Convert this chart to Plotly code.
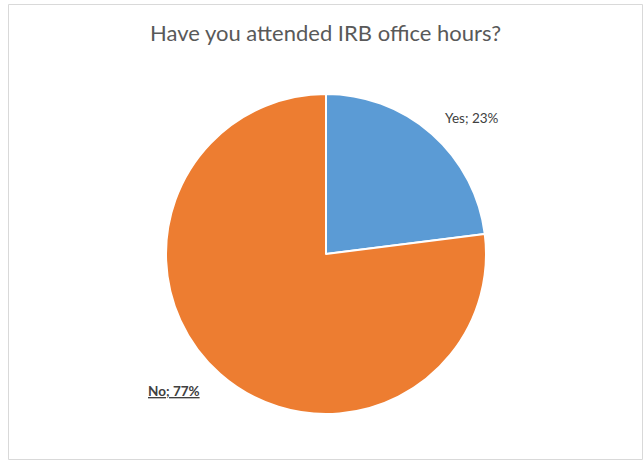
import plotly.graph_objects as go

categories = ["Yes", "No"]
values = [23, 77]
colors = ["#5B9BD5", "#ED7D31"]

W, H = 644, 462
cx, cy, r = 326, 254, 160

fig = go.Figure(go.Pie(
    labels=categories,
    values=values,
    sort=False,
    direction="clockwise",
    rotation=0,
    marker=dict(colors=colors, line=dict(color="white", width=2)),
    textinfo="none",
    hoverinfo="label+percent",
    domain=dict(x=[(cx - r) / W, (cx + r) / W], y=[1 - (cy + r) / H, 1 - (cy - r) / H]),
    showlegend=False,
))

label_pos = {"Yes": (472, 118), "No": (174, 391)}
for cat, val in zip(categories, values):
    txt = f"{cat}; {val}%"
    if cat == "No":
        txt = f"<b><u>{txt}</u></b>"
    x, y = label_pos[cat]
    fig.add_annotation(x=x / W, y=1 - y / H, xref="paper", yref="paper",
                       text=txt, showarrow=False,
                       font=dict(family="Lato, Open Sans, sans-serif", size=13.5, color="#404040"),
                       xanchor="center", yanchor="middle")

fig.add_annotation(x=325 / W, y=1 - 33 / H, xref="paper", yref="paper",
                   text="Have you attended IRB office hours?", showarrow=False,
                   font=dict(family="Lato, Open Sans, sans-serif", size=22, color="#595959"),
                   xanchor="center", yanchor="middle")

fig.add_shape(type="rect", xref="paper", yref="paper",
              x0=8.5 / W, x1=642.5 / W, y0=1 - 459.5 / H, y1=1 - 4.5 / H,
              line=dict(color="#D9D9D9", width=1), fillcolor="rgba(0,0,0,0)")

fig.update_layout(width=W, height=H, margin=dict(l=0, r=0, t=0, b=0),
                  paper_bgcolor="white", plot_bgcolor="white")

fig.write_html("out.html", config={"displayModeBar": False},
               post_script="document.body.style.margin='0';document.body.style.padding='0';document.body.style.overflow='hidden';")
